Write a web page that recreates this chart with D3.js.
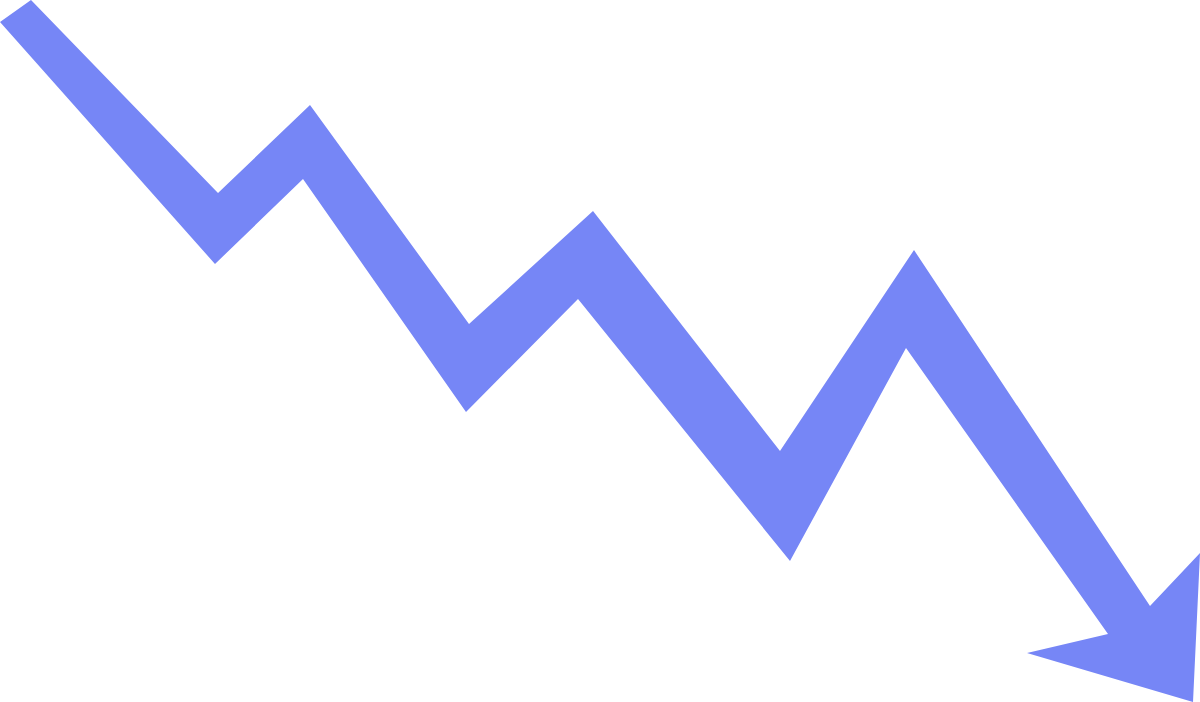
<!DOCTYPE html>
<html>
<head>
  <meta charset="utf-8">
  <title>Downward trend arrow</title>
  <script src="https://d3js.org/d3.v7.min.js"></script>
  <style>
    html, body { margin: 0; overflow: hidden; height: 100%; background: #fff; }
  </style>
</head>
<body>
<svg width="1200" height="702"></svg>

<script>
// upper edge of the zigzag, left to right (then arrowhead)
const upperX = [0, 31, 218, 310, 469, 593, 780, 914, 1150, 1200];
const upperY = [22, 0, 193, 105, 324, 211, 451, 250, 606, 553];
// arrow tip and the left barb
const headX = [1193, 1027, 1108];
const headY = [702, 653, 634];
// lower edge of the zigzag, right to left
const lowerX = [906, 790, 578, 466, 303, 215];
const lowerY = [348, 561, 299, 412, 179, 264];

const width = 1200, height = 702;
const svg = d3.select("svg");

const x = d3.scaleLinear().domain([0, 1200]).range([0, width]);
const y = d3.scaleLinear().domain([0, 702]).range([0, height]);

const pts = []
  .concat(upperX.map((v, i) => [v, upperY[i]]))
  .concat(headX.map((v, i) => [v, headY[i]]))
  .concat(lowerX.map((v, i) => [v, lowerY[i]]));

const line = d3.line()
  .x(d => x(d[0]))
  .y(d => y(d[1]))
  .curve(d3.curveLinearClosed);

svg.append("path")
  .datum(pts)
  .attr("d", line)
  .attr("fill", "#7686f6");
</script>
</body>
</html>
